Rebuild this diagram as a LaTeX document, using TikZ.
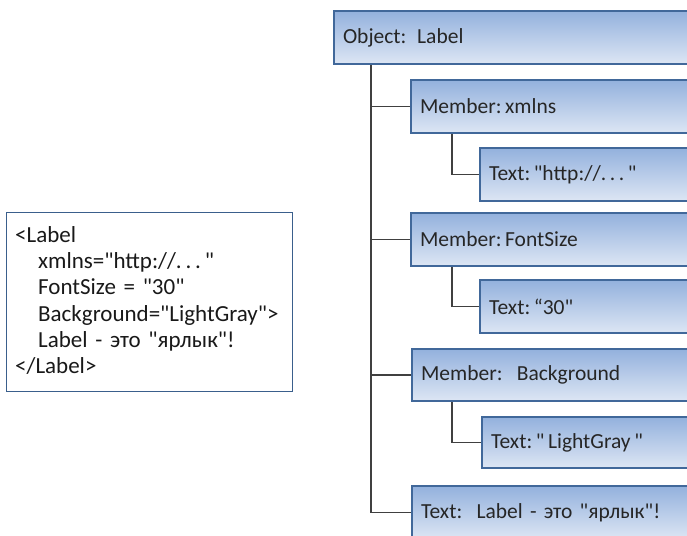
\documentclass[tikz,border=0pt]{standalone}
\usepackage{fontspec}
\setmainfont{Carlito}[Ligatures=TeXOff]
\begin{document}
\begin{tikzpicture}[x=1pt,y=-1pt,
  treebox/.style={draw=boxborder, line width=2pt, top color=boxtop, bottom color=boxbot,
    anchor=north west, text width=380pt, align=left, inner xsep=9pt, inner ysep=0pt,
    minimum height=53pt, font=\fontsize{21.5}{25}\selectfont, text=black!85},
  conn/.style={draw=black!75, line width=1.1pt},
  xmlbox/.style={draw=xmlborder, line width=1pt, fill=white, anchor=north west,
    minimum width=286pt, minimum height=179pt, inner sep=0pt},
  xmltext/.style={anchor=north west, text width=268pt, align=left, inner sep=0pt,
    font=\fontsize{23}{26.3}\selectfont, text=black!90}]
\definecolor{boxborder}{HTML}{41689A}
\definecolor{boxtop}{HTML}{93B1DD}
\definecolor{boxbot}{HTML}{DDE6F4}
\definecolor{xmlborder}{HTML}{3A5F8C}
\useasboundingbox (0,0) rectangle (687,535);
\clip (0,0) rectangle (687,535);
\node[treebox, minimum height=53pt] (obj) at (333,10) {Object: Label};
\node[treebox] (m1) at (410,79) {Member:\,xmlns};
\node[treebox] (t1) at (479,147) {Text:\,"http://.\,.\,.\,"};
\node[treebox] (m2) at (410,212) {Member:\,FontSize};
\node[treebox] (t2) at (479,279) {Text:\,“30"};
\node[treebox, minimum height=52pt] (m3) at (411,348) {Member:\ \ Background};
\node[treebox, minimum height=51pt] (t3) at (481,416) {Text:\,"\,LightGray\,"};
\node[treebox] (t4) at (411,485) {Text:\ \ Label - это "ярлык"!};
\coordinate (trunk) at (371,0);
\coordinate (sub) at (452,0);
\draw[conn] (trunk |- obj.south) |- (m1.west);
\draw[conn] (trunk |- m1.west) |- (m2.west);
\draw[conn] (trunk |- m2.west) |- (m3.west);
\draw[conn] (trunk |- m3.west) |- (t4.west);
\draw[conn] (sub |- m1.south) |- (t1.west);
\draw[conn] (sub |- m2.south) |- (t2.west);
\draw[conn] (sub |- m3.south) |- (t3.west);
\node[xmlbox] (xml) at (6,212) {};
\node[xmltext] (xmlt) at (15,226) {<Label\\
\hspace*{23pt}xmlns="http://.\,.\,.\,"\\
\hspace*{23pt}FontSize = "30"\\
\hspace*{23pt}Background="LightGray">\\
\hspace*{23pt}Label - это "ярлык"!\\
</Label>};
\end{tikzpicture}
\end{document}
